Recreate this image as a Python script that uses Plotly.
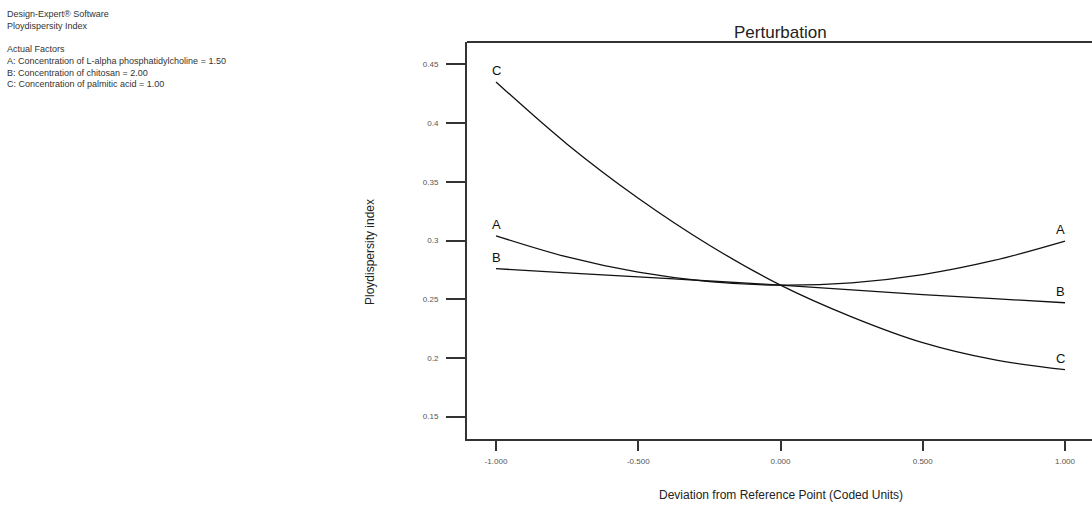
import plotly.graph_objects as go

# Data
x_dev = [-1.0, -0.75, -0.5, -0.25, 0.0, 0.25, 0.5, 0.75, 1.0]
series_A = [0.304, 0.286, 0.273, 0.265, 0.262, 0.264, 0.271, 0.283, 0.2995]
series_B = [0.276, 0.2725, 0.269, 0.2655, 0.262, 0.258, 0.254, 0.2505, 0.247]
series_C = [0.435, 0.382, 0.336, 0.296, 0.262, 0.235, 0.213, 0.1985, 0.190]
series_names = ["A", "B", "C"]

x_ticks = [-1.0, -0.5, 0.0, 0.5, 1.0]
x_tick_text = ["-1.000", "-0.500", "0.000", "0.500", "1.000"]
y_ticks = [0.15, 0.2, 0.25, 0.3, 0.35, 0.4, 0.45]
y_tick_text = ["0.15", "0.2", "0.25", "0.3", "0.35", "0.4", "0.45"]

info_lines = [
    "Design-Expert® Software",
    "Ploydispersity Index",
    "",
    "Actual Factors",
    "A: Concentration of L-alpha phosphatidylcholine = 1.50",
    "B: Concentration of chitosan = 2.00",
    "C: Concentration of palmitic acid = 1.00",
]

W, H = 1092, 524
L, R, T, B = 467, 0, 42, 85
FONT = "Liberation Sans, Arial, sans-serif"

fig = go.Figure()
for name, ys in zip(series_names, [series_A, series_B, series_C]):
    fig.add_trace(go.Scatter(x=x_dev, y=ys, mode="lines", name=name,
                             line=dict(color="#111111", width=1.3, shape="spline"),
                             showlegend=False, hoverinfo="skip"))
    # end labels
    fig.add_annotation(x=x_dev[0], y=ys[0], text=name, showarrow=False,
                       xanchor="center", yanchor="bottom", yshift=2,
                       font=dict(family=FONT, size=13, color="#111111"))
    fig.add_annotation(x=x_dev[-1], y=ys[-1], text=name, showarrow=False,
                       xanchor="center", yanchor="bottom", yshift=2, xshift=-4,
                       font=dict(family=FONT, size=13, color="#111111"))

pw = W - L - R
ph = H - T - B

# top border line
fig.add_shape(type="line", xref="paper", yref="paper", x0=0, x1=1, y0=1, y1=1,
              line=dict(color="#333333", width=2))

# title
fig.add_annotation(x=0.0, xref="x", y=(H - B - 32) / ph, yref="paper",
                   text="Perturbation", showarrow=False, xanchor="center", yanchor="middle",
                   font=dict(family=FONT, size=17, color="#222222"))
# axis titles
fig.add_annotation(x=0.0, xref="x", y=(H - B - 495) / ph, yref="paper",
                   text="Deviation from Reference Point (Coded Units)", showarrow=False,
                   xanchor="center", yanchor="middle",
                   font=dict(family=FONT, size=12, color="#222222"))
fig.add_annotation(x=(370 - L) / pw, xref="paper", y=(H - B - 252) / ph, yref="paper",
                   text="Ploydispersity index", showarrow=False, textangle=-90,
                   xanchor="center", yanchor="middle",
                   font=dict(family=FONT, size=12, color="#222222"))
# info text
fig.add_annotation(x=(5 - L) / pw, xref="paper", y=(H - B - 7) / ph, yref="paper",
                   text="<br>".join(info_lines), showarrow=False, align="left",
                   xanchor="left", yanchor="top",
                   font=dict(family=FONT, size=9, color="#333333"))

fig.update_layout(
    width=W, height=H,
    margin=dict(l=L, r=R, t=T, b=B, pad=0),
    paper_bgcolor="white", plot_bgcolor="white",
    xaxis=dict(range=[-1.102, 1.095], tickvals=x_ticks, ticktext=x_tick_text,
               showgrid=False, zeroline=False, showline=True, linecolor="#333333",
               linewidth=2, ticks="outside", ticklen=10, tickwidth=2, tickcolor="#333333",
               ticklabelstandoff=3,
               tickfont=dict(family=FONT, size=8, color="#555555")),
    yaxis=dict(range=[0.131, 0.469], tickvals=y_ticks, ticktext=y_tick_text,
               showgrid=False, zeroline=False, showline=True, linecolor="#333333",
               linewidth=2, ticks="outside", ticklen=19, tickwidth=2, tickcolor="#333333",
               ticklabelstandoff=6,
               tickfont=dict(family=FONT, size=8, color="#555555")),
)

fig.write_html("out.html")
